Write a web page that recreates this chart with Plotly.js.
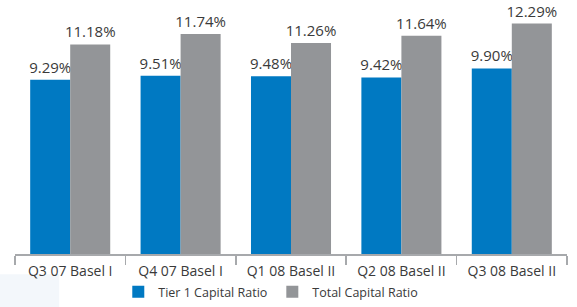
<!DOCTYPE html>
<html><head><meta charset="utf-8">
<script src="https://cdn.plot.ly/plotly-3.0.1.min.js"></script>
<style>html,body{margin:0;padding:0;background:#fff}#chart{width:577px;height:307px}</style>
</head><body><div id="chart"></div>
<script>
const categories = ["Q3 07 Basel I", "Q4 07 Basel I", "Q1 08 Basel II", "Q2 08 Basel II", "Q3 08 Basel II"];
const tier1 = [9.29, 9.51, 9.48, 9.42, 9.90];
const totalCap = [11.18, 11.74, 11.26, 11.64, 12.29];
const seriesNames = ["Tier 1 Capital Ratio", "Total Capital Ratio"];

const fam = "Open Sans, sans-serif";
const mk = (y, name, color) => ({
  type: 'bar', x: categories, y: y, name: name,
  marker: {color: color, line: {width: 0}},
  text: y.map(v => v.toFixed(2) + '%'), textposition: 'outside', constraintext: 'none',
  textfont: {family: fam, size: 15, color: '#3a3a3a'},
  cliponaxis: false, hoverinfo: 'skip'
});
const data = [mk(tier1, seriesNames[0], '#0079c2'), mk(totalCap, seriesNames[1], '#939598')];
const layout = {
  width: 577, height: 307,
  margin: {l: 15, r: 10, t: 0, b: 53},
  barmode: 'group', bargap: 0.275, bargroupgap: 0,
  paper_bgcolor: '#fff', plot_bgcolor: '#fff',
  font: {family: fam, color: '#3a3a3a'},
  xaxis: {
    showline: true, linecolor: '#a7a9ac', linewidth: 1.5,
    ticks: 'outside', tickson: 'boundaries', ticklen: 9, tickcolor: '#a7a9ac', tickwidth: 1.5,
    ticklabelstandoff: 4,
    tickfont: {family: fam, size: 14, color: '#3a3a3a'}, showgrid: false, zeroline: false
  },
  yaxis: {range: [0, 13.55], visible: false, showgrid: false, zeroline: false},
  showlegend: true,
  legend: {orientation: 'h', xref: 'container', yref: 'container', x: 0.205, xanchor: 'left', y: -0.015, yanchor: 'bottom',
    bgcolor: 'rgba(0,0,0,0)',
    font: {family: fam, size: 12.5, color: '#3a3a3a'}, traceorder: 'normal', itemwidth: 30},
  shapes: [{type: 'rect', xref: 'paper', yref: 'paper', x0: -0.03, x1: 0.08, y0: -0.22, y1: -0.08, fillcolor: '#f3f7fb', line: {width: 0}, layer: 'below'}]
};
Plotly.newPlot('chart', data, layout, {displayModeBar: false, staticPlot: true});
</script></body></html>
